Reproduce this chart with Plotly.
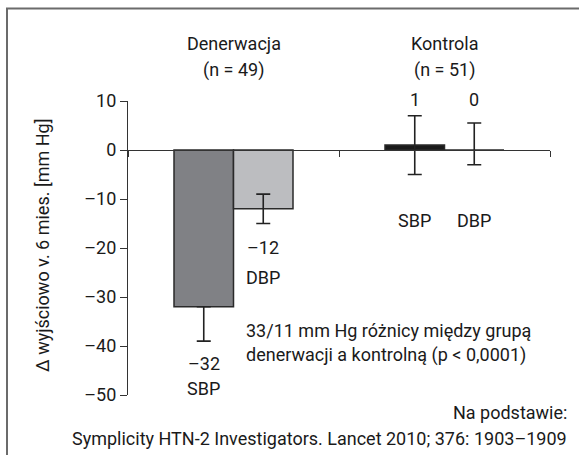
import plotly.graph_objects as go

# ---- data ----
groups = ["Denerwacja", "Kontrola"]
group_n = ["(n = 49)", "(n = 51)"]
sbp = [-32, 1]
dbp = [-12, 0]
sbp_err_plus = [0, 6]
sbp_err_minus = [7, 6]
dbp_err_plus = [3, 5.5]
dbp_err_minus = [3, 3]
y_ticks = [10, 0, -10, -20, -30, -40, -50]

FONT = "Roboto, Liberation Sans, Arial, sans-serif"
TXT = "#1a1a1a"

L, R, T, B = 128, 29, 101, 60
W, H = 579, 455
pw = W - L - R
ph = H - T - B
ymin, ymax = -50, 10
def px2paper(px):
    return (px - L) / pw
def py2paper(py):
    return (T + ph - py) / ph

bargap = 0.436
half = (1 - bargap) / 4  # half of one bar width in category units

fig = go.Figure()
fig.add_trace(go.Bar(
    x=groups, y=sbp, name="SBP",
    marker=dict(color=["#808185", "#1a1a1a"], line=dict(color="#2a2a2a", width=1.5)),
    error_y=dict(type="data", symmetric=False, array=sbp_err_plus, arrayminus=sbp_err_minus,
                 color="#222222", thickness=1.6, width=7),
))
fig.add_trace(go.Bar(
    x=groups, y=dbp, name="DBP",
    marker=dict(color=["#bcbdc0", "#bcbdc0"], line=dict(color="#2a2a2a", width=1.5)),
    error_y=dict(type="data", symmetric=False, array=dbp_err_plus, arrayminus=dbp_err_minus,
                 color="#222222", thickness=1.6, width=7),
))

ann = []
def a(text, x, py, xref="x", xanchor="center", align="center", **kw):
    ann.append(dict(text=text, x=x, y=py2paper(py), xref=xref, yref="paper", xanchor=xanchor,
                    yanchor="middle", align=align, showarrow=False,
                    font=dict(family=FONT, size=18, color=TXT), **kw))

for i, g in enumerate(groups):
    a(g, i, 43)
    a(group_n[i], i, 70)

# value labels
a("–32", 0 - half, 363)
a("SBP", 0 - half, 388)
a("–12", 0 + half, 247)
a("DBP", 0 + half, 277)
a(str(sbp[1]), 1 - half, 99)
a(str(dbp[1]), 1 + half, 99)
a("SBP", 1 - half, 220)
a("DBP", 1 + half, 220)

# note
a("33/11 mm Hg różnicy między grupą", px2paper(244), 330, xref="paper", xanchor="left", align="left")
a("denerwacji a kontrolną (p < 0,0001)", px2paper(244), 355, xref="paper", xanchor="left", align="left")
a("Na podstawie:", px2paper(569), 412, xref="paper", xanchor="right", align="right")
a("Symplicity HTN-2 Investigators. Lancet 2010; 376: 1903–1909", px2paper(569), 438,
  xref="paper", xanchor="right", align="right")

# y title
a("Δ wyjściowo v. 6 mies. [mm Hg]", px2paper(42), 246, xref="paper", textangle=-90)

fig.update_layout(
    width=W, height=H,
    margin=dict(l=L, r=R, t=T, b=B, pad=0),
    paper_bgcolor="white", plot_bgcolor="white",
    barmode="group", bargap=bargap, bargroupgap=0,
    showlegend=False,
    font=dict(family=FONT, size=18, color=TXT),
    annotations=ann,
    shapes=[dict(type="rect", xref="paper", yref="paper",
                 x0=px2paper(7), x1=px2paper(590), y0=py2paper(470), y1=py2paper(8.5),
                 line=dict(color="#6b6b6b", width=2), fillcolor="rgba(0,0,0,0)", layer="below")],
)
fig.update_xaxes(
    type="category", range=[-0.5, 1.5], anchor="free", position=(0 - ymin) / (ymax - ymin),
    showline=True, linecolor="#333333", linewidth=1.2,
    ticks="outside", tickson="boundaries", ticklen=6, tickcolor="#333333", tickwidth=1.2,
    showticklabels=False, showgrid=False, zeroline=False,
)
fig.update_yaxes(
    range=[ymin, ymax], tickmode="array", tickvals=y_ticks,
    ticktext=[("–" + str(-v)) if v < 0 else str(v) for v in y_ticks],
    showline=True, linecolor="#333333", linewidth=1.2,
    ticks="outside", ticklen=7, tickcolor="#333333", tickwidth=1.2,
    showgrid=False, zeroline=False, tickfont=dict(family=FONT, size=18, color=TXT),
)

fig.write_html("out.html", config={"displayModeBar": False},
               post_script="document.body.style.margin='0';")
